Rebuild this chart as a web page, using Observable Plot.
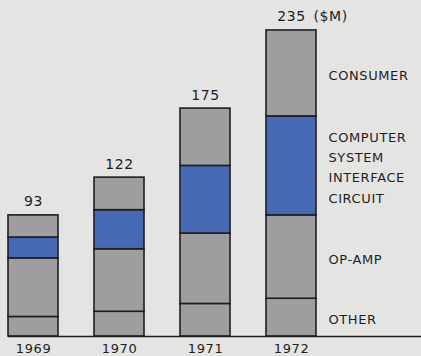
<!DOCTYPE html>
<html><head><meta charset="utf-8">
<script src="https://cdn.jsdelivr.net/npm/d3@7"></script>
<script src="https://cdn.jsdelivr.net/npm/@observablehq/plot@0.6"></script>
<style>
html,body{margin:0;padding:0;background:#e4e4e2;overflow:hidden;}
</style></head><body><div id="chart"></div>
<script>
const years = ["1969", "1970", "1971", "1972"];
const series = ["OTHER", "OP-AMP", "COMPUTER SYSTEM INTERFACE CIRCUIT", "CONSUMER"];
const other = [15, 19, 25, 29];
const opAmp = [45, 48, 54, 64];
const computer = [16, 30, 52, 76];
const consumer = [17, 25, 44, 66];
const totals = [93, 122, 175, 235];
const seriesLabels = ["OTHER", "OP-AMP", "COMPUTER\nSYSTEM\nINTERFACE\nCIRCUIT", "CONSUMER"];
const unitLabel = "($M)";

const gray = "#9e9ea0", blue = "#4769b3", ink = "#1e1e22";
const values = [other, opAmp, computer, consumer];
const data = [];
series.forEach((s, i) => years.forEach((y, j) => data.push({year: y, series: s, value: values[i][j]})));
const last = years.length - 1;
let cum = 0;
const segLabels = series.map((s, i) => {
  const mid = cum + values[i][last] / 2;
  cum += values[i][last];
  return {year: years[last], y: mid, label: seriesLabels[i]};
});
const totalData = years.map((y, i) => ({year: y, total: totals[i], label: String(totals[i])}));
const unitData = [{year: years[last], total: totals[last], label: unitLabel}];

const chart = Plot.plot({
  width: 421, height: 356,
  marginLeft: 8, marginRight: 0, marginTop: 0, marginBottom: 20,
  style: {background: "#e4e4e2", fontFamily: "DejaVu Sans, sans-serif", color: ink, letterSpacing: "0.6px"},
  x: {domain: years, paddingInner: 0.42, paddingOuter: 0.6, align: 0, axis: null},
  y: {domain: [0, 258], axis: null},
  color: {domain: series, range: [gray, gray, blue, gray]},
  marks: [
    Plot.barY(data, {x: "year", y: "value", fill: "series", stroke: ink, strokeWidth: 1.6, order: series}),
    Plot.ruleY([0], {stroke: ink, strokeWidth: 1.6}),
    Plot.axisX({tickSize: 0, tickPadding: 7, fontSize: 13, fill: ink, label: null}),
    Plot.text(totalData, {x: "year", y: "total", text: "label", dy: -9, lineAnchor: "bottom", fontSize: 14, fill: ink}),
    Plot.text(unitData, {x: "year", y: "total", text: "label", dx: 22, dy: -9, textAnchor: "start", lineAnchor: "bottom", fontSize: 14, fill: ink}),
    Plot.text(segLabels, {x: "year", y: "y", text: "label", dx: 37, textAnchor: "start", lineAnchor: "middle", fontSize: 13, lineHeight: 1.55, fill: ink})
  ]
});
document.getElementById("chart").appendChild(chart);
</script>
</body></html>
